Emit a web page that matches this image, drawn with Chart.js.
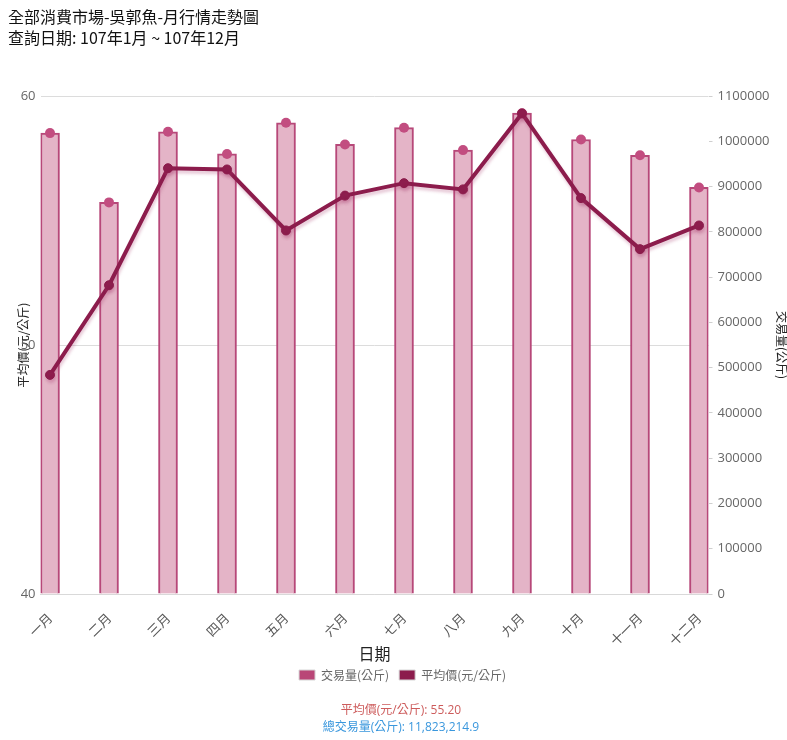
<!DOCTYPE html>
<html><head><meta charset="utf-8">
<script src="https://cdn.jsdelivr.net/npm/chart.js@4/dist/chart.umd.min.js"></script>
<style>
html,body{margin:0;padding:0;background:#fff;}
#wrap{position:relative;width:787px;height:740px;overflow:hidden;}
#title{position:absolute;left:8px;top:6px;font-size:16px;font-family:'Noto Sans CJK TC','Open Sans',sans-serif;line-height:21px;color:#111;}
#c{position:absolute;left:0;top:0;}
.foot{position:absolute;left:0;width:802px;text-align:center;font-size:12px;line-height:16px;font-family:'Open Sans','Noto Sans CJK TC',sans-serif;}
</style></head>
<body><div id="wrap">
<canvas id="c" width="787" height="740"></canvas>
<div id="title">全部消費市場-吳郭魚-月行情走勢圖<br>查詢日期: 107年1月 ~ 107年12月</div>
<div class="foot" style="top:702px;color:#cd5c5c">平均價(元/公斤): 55.20</div>
<div class="foot" style="top:719px;color:#3a97dd">總交易量(公斤): 11,823,214.9</div>
</div>
<script>
const months = ['一月','二月','三月','四月','五月','六月','七月','八月','九月','十月','十一月','十二月'];
const volume = [1018000, 865000, 1021000, 972000, 1041000, 993000, 1030000, 980500, 1062000, 1004000, 969000, 898000];
const price = [48.8, 52.4, 57.1, 57.05, 54.6, 56.0, 56.5, 56.25, 59.3, 55.9, 53.85, 54.8];
const priceTicks = [40, 50, 60];
const volumeTicks = [0,100000,200000,300000,400000,500000,600000,700000,800000,900000,1000000,1100000];

const FONT = "'Open Sans','Noto Sans CJK TC',sans-serif";
const CJK = "'Noto Sans CJK TC','Open Sans',sans-serif";
const volPts = volume.map((v,i)=>({x:i,y:v}));
const pricePts = price.map((v,i)=>({x:i,y:v}));

const shadowPlugin = {
  id:'lineShadow',
  beforeDatasetDraw(chart, args){
    if (args.index === 2) {
      const ctx = chart.ctx; ctx.save();
      ctx.shadowColor = 'rgba(170,60,110,0.28)';
      ctx.shadowOffsetY = 3; ctx.shadowOffsetX = 1; ctx.shadowBlur = 3;
    }
  },
  afterDatasetDraw(chart, args){
    if (args.index === 2) chart.ctx.restore();
  }
};

new Chart(document.getElementById('c'), {
  data: {
    datasets: [
      {type:'bar', label:'交易量(公斤)', data: volPts, yAxisID:'yV', xAxisID:'x',
       backgroundColor:'#e4b4c7', borderColor:'#b74879', borderWidth:2, barThickness:19, order:3},
      {type:'line', label:'_top', data: volPts, yAxisID:'yV', xAxisID:'x', showLine:false,
       pointRadius:5, pointBorderWidth:0, pointBackgroundColor:'#c24d80', pointBorderColor:'#c24d80', order:2},
      {type:'line', label:'平均價(元/公斤)', data: pricePts, yAxisID:'yP', xAxisID:'x',
       borderColor:'#8c1c4c', borderWidth:4, tension:0, pointRadius:4.5, pointBorderWidth:1,
       pointBackgroundColor:'#8c1c4c', pointBorderColor:'#8c1c4c', order:1}
    ]
  },
  options: {
    responsive:false, animation:false,
    layout:{padding:{left:18, right:0, top:96, bottom:49}},
    plugins:{
      tooltip:{enabled:false},
      legend:{position:'bottom',
        labels:{boxWidth:16, boxHeight:10, padding:10, color:'#666', font:{size:12, family:CJK},
          generateLabels: () => [
            {text:'交易量(公斤)', fillStyle:'#b94677', strokeStyle:'#d6d6d6', lineWidth:1, datasetIndex:0, fontColor:'#666'},
            {text:'平均價(元/公斤)', fillStyle:'#8c1c4c', strokeStyle:'#d6d6d6', lineWidth:1, datasetIndex:2, fontColor:'#666'}
          ]}
      }
    },
    scales:{
      x:{type:'linear', position:'bottom', min:-0.161, max:11.161, offset:false,
        afterBuildTicks: s => { s.ticks = months.map((_,i)=>({value:i})); },
        afterFit: s => { s.height = 65; },
        grid:{display:false, drawTicks:false, offset:false},
        border:{display:true, color:'#d9d9d9', width:1},
        ticks:{autoSkip:false, minRotation:45, maxRotation:45, padding:16, color:'#555',
          font:{size:13, family:CJK}, callback: v => months[v]},
        title:{display:true, text:'日期', color:'#222', font:{size:16, family:CJK}, padding:{top:0,bottom:-5}}
      },
      yP:{type:'linear', position:'left', min:40, max:60,
        afterBuildTicks: s => { s.ticks = priceTicks.map(v=>({value:v})); },
        afterFit: s => { s.width = 22.5; },
        grid:{color:'#dcdcdc', drawTicks:false},
        border:{display:false},
        ticks:{padding:5, color:'#666', font:{size:13, family:FONT}},
        title:{display:true, text:'平均價(元/公斤)', color:'#222', font:{size:12, family:CJK}, padding:{top:-2,bottom:0}}
      },
      yV:{type:'linear', position:'right', min:0, max:1100000,
        afterBuildTicks: s => { s.ticks = volumeTicks.map(v=>({value:v})); },
        afterFit: s => { s.width = 78.5; },
        grid:{drawOnChartArea:false, drawTicks:true, tickLength:4, color:'#cfcfcf'},
        border:{display:false},
        ticks:{padding:5, color:'#666', font:{size:13, family:FONT}, callback: v => String(v)},
        title:{display:true, text:'交易量(公斤)', color:'#222', font:{size:12, family:CJK}, padding:{top:-2,bottom:0}}
      }
    }
  },
  plugins:[shadowPlugin]
});
</script>
</body></html>
